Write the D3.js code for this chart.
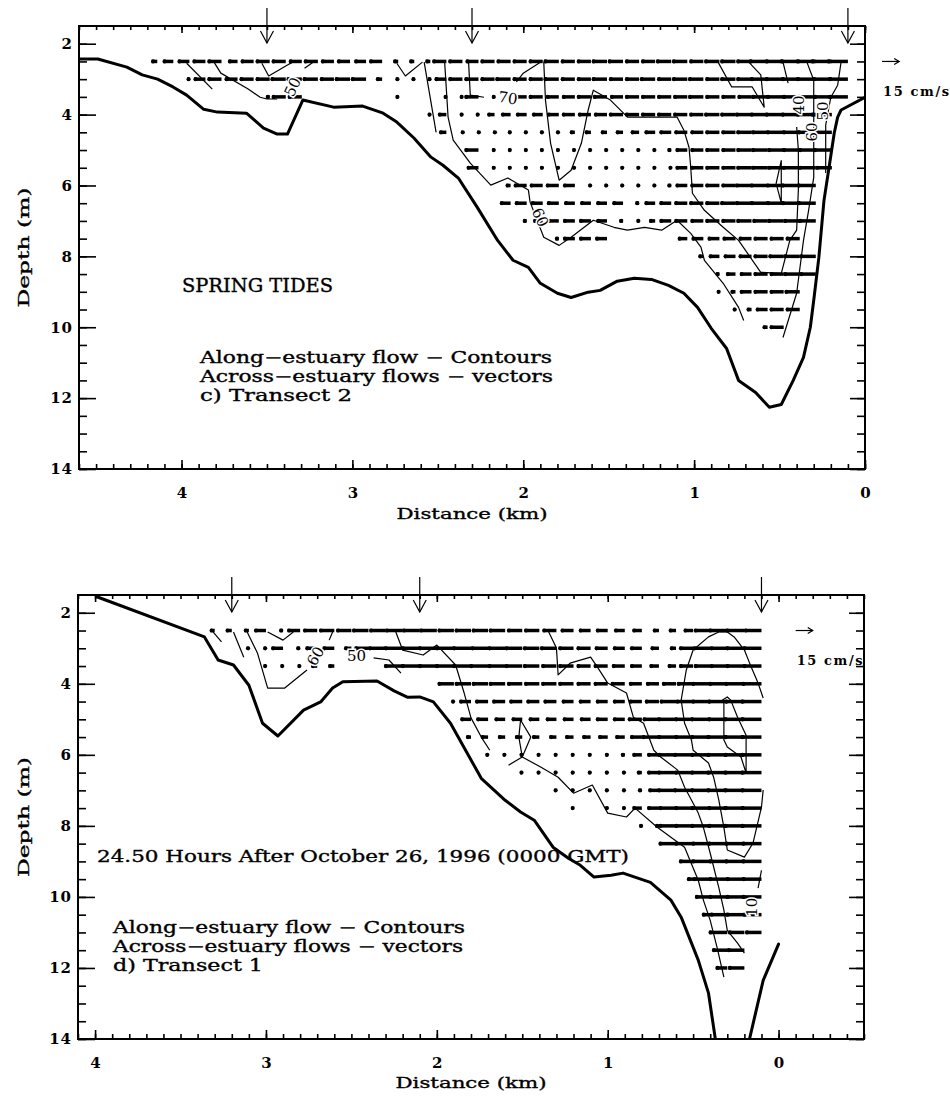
<!DOCTYPE html>
<html><head><meta charset="utf-8">
<script src="https://cdn.jsdelivr.net/npm/d3@7"></script>
<style>
body{margin:0;background:#fff}
svg text{font-family:"DejaVu Serif",serif;fill:#000}
</style>
</head><body>
<svg id="c" width="950" height="1099"></svg>
<script>
// ================= DATA =================
const depthTicks = [2, 4, 6, 8, 10, 12, 14];
const topDistTicks = [4, 3, 2, 1, 0];
const botDistTicks = [4, 3, 2, 1, 0];
const topStations = [3.5, 2.3, 0.1];
const botStations = [3.2, 2.1, 0.1];
const scaleSpeed = 15; // cm/s reference arrow

// bathymetry [km, m]
const topBathy = [[4.60,2.43],[4.49,2.43],[4.32,2.66],[4.23,2.88],[4.14,3.00],[4.05,3.22],[3.97,3.45],[3.87,3.85],[3.79,3.93],[3.62,3.96],[3.52,4.38],[3.44,4.55],[3.38,4.55],[3.29,3.59],[3.11,3.79],[2.94,3.76],[2.82,3.96],[2.74,4.21],[2.64,4.66],[2.54,5.20],[2.47,5.43],[2.38,5.79],[2.27,6.61],[2.15,7.55],[2.06,8.11],[1.97,8.31],[1.90,8.76],[1.80,9.04],[1.72,9.16],[1.62,9.01],[1.55,8.96],[1.45,8.70],[1.35,8.62],[1.25,8.65],[1.15,8.82],[1.06,9.04],[0.98,9.44],[0.90,10.03],[0.81,10.60],[0.74,11.50],[0.64,11.84],[0.56,12.26],[0.49,12.18],[0.42,11.50],[0.36,10.85],[0.32,10.00],[0.30,9.24],[0.27,8.03],[0.24,6.42],[0.21,5.48],[0.18,4.52],[0.16,4.07],[0.14,3.87],[0.00,3.51]];
const botBathyLeft = [[3.99,1.55],[3.36,2.68],[3.28,3.33],[3.19,3.47],[3.10,4.04],[3.02,5.11],[2.93,5.47],[2.78,4.74],[2.68,4.51],[2.61,4.12],[2.55,3.94],[2.35,3.92],[2.25,4.20],[2.17,4.38],[2.10,4.37],[2.02,4.51],[1.92,5.11],[1.74,6.66],[1.60,7.28],[1.51,7.61],[1.43,7.84],[1.32,8.60],[1.23,8.91],[1.16,9.11],[1.08,9.44],[0.98,9.39],[0.91,9.33],[0.75,9.59],[0.63,10.09],[0.57,10.57],[0.47,11.78],[0.41,12.71],[0.37,14.0]];
const botBathyRight = [[0.17,14.0],[0.09,12.35],[0.00,11.33]];

// contours of along-estuary flow [km, m]
const topContours = [
  [[3.97,2.55],[3.82,3.28]],
  [[3.81,2.52],[3.77,2.83],[3.61,3.28],[3.54,3.51],[3.50,3.56],[3.44,3.56]],
  [[3.53,2.55],[3.49,2.91],[3.38,2.60],[3.35,2.52]],
  [[3.28,2.69],[3.23,2.52]],
  [[2.74,2.55],[2.69,2.91],[2.59,2.52]],
  [[2.58,2.52],[2.51,4.50]],
  [[2.46,2.52],[2.44,4.07],[2.41,4.72],[2.31,5.37],[2.19,5.99],[2.09,5.79],[1.97,6.13],[1.96,6.47],[1.88,7.46],[1.79,7.69],[1.72,7.46],[1.59,6.98],[1.47,7.18],[1.39,7.26],[1.29,7.18],[1.19,7.26],[1.10,6.98],[1.02,7.35],[0.96,7.74],[0.94,8.11],[0.83,8.76],[0.74,9.44],[0.71,9.81]],
  [[2.32,2.52],[2.31,3.45],[2.23,3.51]],
  [[2.04,3.08],[2.00,2.83],[1.90,2.52]],
  [[1.88,2.52],[1.87,3.59],[1.84,4.81],[1.79,5.85],[1.72,5.57],[1.66,4.81],[1.62,3.87],[1.59,3.31],[1.49,3.59],[1.39,4.07],[1.10,4.07],[1.06,4.44],[1.03,4.92],[1.02,5.48],[1.01,6.22],[0.94,6.70],[0.83,7.18],[0.74,7.55],[0.61,8.45],[0.49,8.48],[0.44,7.55],[0.40,7.26],[0.39,6.13],[0.39,5.00],[0.40,4.35]],
  [[0.45,3.11],[0.48,2.52]],
  [[0.86,2.52],[0.78,3.22],[0.66,3.22],[0.59,3.79],[0.61,2.88],[0.68,2.52]],
  [[0.34,2.52],[0.30,3.03],[0.30,5.77],[0.33,6.70],[0.36,7.55],[0.40,9.04],[0.48,10.29]],
  [[0.14,2.52],[0.16,3.17],[0.20,3.51],[0.23,4.30],[0.23,5.65]],
  [[0.49,5.29],[0.52,5.94],[0.49,6.50],[0.49,5.29]]
];
const botContours = [
  [[3.31,2.54],[3.26,2.82]],
  [[3.19,2.54],[3.13,3.25]],
  [[3.11,2.54],[3.05,3.13],[2.99,4.12],[2.89,4.12],[2.76,3.61]],
  [[2.99,2.54],[2.90,2.77],[2.84,2.54]],
  [[2.63,2.77],[2.61,2.54]],
  [[2.37,3.27],[2.28,3.33],[2.21,3.70]],
  [[2.24,2.54],[2.20,3.05],[2.08,3.19],[2.00,2.91],[1.89,3.47],[1.84,4.26],[1.80,4.96],[1.74,5.50],[1.69,5.87]],
  [[1.35,2.49],[1.30,2.99],[1.29,3.75],[1.22,3.42],[1.10,3.25],[1.06,3.53],[1.00,3.98],[0.89,4.26],[0.85,4.94],[0.79,5.11],[0.73,5.87],[0.69,6.06],[0.59,6.43],[0.55,6.91],[0.51,7.27],[0.47,7.64],[0.44,8.04],[0.40,8.77],[0.35,9.73],[0.32,10.37],[0.30,10.94],[0.24,11.30],[0.20,11.58]],
  [[1.51,5.02],[1.45,5.50],[1.50,6.06],[1.52,5.50],[1.51,5.02]],
  [[1.58,6.29],[1.50,6.06],[1.39,6.35],[1.29,6.63],[1.20,7.08],[1.09,6.85],[1.00,7.64],[0.89,7.75],[0.84,7.50],[0.71,8.04],[0.63,8.32],[0.55,8.60],[0.47,9.53],[0.44,10.09],[0.40,10.66],[0.36,11.42],[0.32,12.26]],
  [[0.09,4.40],[0.12,3.98],[0.16,3.53],[0.20,3.05],[0.26,2.68],[0.30,2.54],[0.35,2.54],[0.41,2.68],[0.50,3.05],[0.54,3.61],[0.57,4.46],[0.55,5.11],[0.51,5.58],[0.50,5.87],[0.41,6.23],[0.38,6.63],[0.35,7.27],[0.32,8.04],[0.30,8.68],[0.20,8.88],[0.15,8.49],[0.10,7.47],[0.09,6.99]],
  [[0.33,4.46],[0.30,4.37],[0.28,4.46],[0.24,4.94],[0.19,5.45],[0.19,6.51],[0.22,6.06],[0.30,5.78],[0.32,5.58],[0.32,4.55],[0.33,4.46]],
  [[0.10,9.25],[0.12,9.75]]
];

// contour labels
const topLabelText = ['50','70','60','40','60','50'];
const topLabelPos  = [[3.35,3.22],[2.09,3.53],[1.90,6.90],[0.39,3.73],[0.31,4.49],[0.25,3.90]];
const topLabelRot  = [-65, 8, 65, -90, -90, -90];
const botLabelText = ['60','50','10'];
const botLabelPos  = [[2.71,3.22],[2.47,3.22],[0.155,10.29]];
const botLabelRot  = [-60, 0, -90];

// across-estuary velocity vectors (cm/s, negative x direction), index 0 at 0.1 km going landward
const vecOrigin = 0.1;
const topVecDx = 0.094;
const botVecDx = 0.1;
const topVecDepths = [2.5,3.0,3.5,4.0,4.5,5.0,5.5,6.0,6.5,7.0,7.5,8.0,8.5,9.0,9.5,10.0];
const topRow25 = [18,18,17,17,16,16,13,13,13,12,13,13,12,12,13,13,12,12,13,12,12,12,12,11,12,12,4,4,4,11,10,11,11,12,11,12,12,11,8,12,11,10,9,5];
const topRow30 = [17,17,17,16,16,15,13,13,12,13,13,12,13,12,12,13,12,12,13,12,12,13,12,12,12,10,2,2,2,5,13,13,12,13,13,13,12,12,11,12,10,2];
const topRow35 = [17,16,16,15,15,14,12,12,12,13,12,12,12,12,11,12,12,11,11,12,10,2,2,12,2,2,null,null,2,null,null,null,null,null,12,12,3];
const topRow40 = [null,18,17,16,16,15,14,13,13,12,12,12,12,12,12,11,11,11,10,9,9,8,6,2,2,7,2];
const topRow45 = [null,16,16,15,15,14,13,12,12,11,11,10,9,7,6,5,5,4,2,2,2,2,1,1,1,6];
const topRow50 = [null,16,15,15,14,14,13,12,12,11,10,3,2,2,2,2,2,2,2,2,2,2,2,12];
const topRow55 = [null,14,15,15,14,14,13,12,12,11,10,2,2,2,2,2,2,2,2,2,2,2,2,10];
const topRow60 = [null,null,16,16,15,15,14,12,12,11,10,3,2,2,2,2,2,10,11,11,11,4];
const topRow65 = [null,null,16,16,15,15,14,13,12,12,11,10,9,3,9,9,9,9,10,10,10,9];
const topRow70 = [null,null,15,14,14,13,13,12,12,11,11,10,5,2,3,9,10,10,10,8,3];
const topRow75 = [null,null,null,12,12,12,11,11,10,10,8,null,null,null,null,10,10,10,3];
const topRow80 = [null,null,14,14,13,12,11,10,9,4];
const topRow85 = [null,null,14,14,12,12,10,8,3];
const topRow90 = [null,null,null,13,12,12,10,4,2];
const topRow95 = [null,null,null,12,12,10,4,2];
const topRow100 = [null,null,null,null,12,4];
const topVecRows = [topRow25,topRow30,topRow35,topRow40,topRow45,topRow50,topRow55,topRow60,topRow65,topRow70,topRow75,topRow80,topRow85,topRow90,topRow95,topRow100];

const botVecDepths = [2.5,3.0,3.5,4.0,4.5,5.0,5.5,6.0,6.5,7.0,7.5,8.0,8.5,9.0,9.5,10.0,10.5,11.0,11.5,12.0];
const botRow25 = [15,16,16,14,8,6,5,8,9,10,10,11,12,13,13,14,14,14,14,15,15,15,14,14,13,13,12,11,3,10,4,5,4];
const botRow30 = [16,16,15,15,12,5,7,10,10,11,12,13,14,14,15,15,15,16,16,16,16,16,15,12,6,10,10,3,10,2,2];
const botRow35 = [16,16,15,14,12,7,8,10,11,12,12,13,13,14,15,15,16,16,16,16,16,16,null,null,null,5,5,2,2,2];
const botRow40 = [17,17,16,16,14,12,11,11,12,12,12,13,13,13,13,14,14,14,14];
const botRow45 = [18,17,17,16,15,14,12,11,10,10,10,10,11,11,11,11,11,10,2];
const botRow50 = [18,18,17,17,16,16,14,12,10,10,9,9,9,9,9,9,10,9];
const botRow55 = [18,18,18,17,16,16,15,10,8,8,7,7,6,6,6,6,6,4];
const botRow60 = [18,18,18,17,17,16,10,8,3,2,2,2,2,2,2,2,2];
const botRow65 = [18,18,18,17,16,16,10,4,2,2,2,2,2,2,2];
const botRow70 = [18,18,18,17,17,16,9,3,2,2,2,2,2];
const botRow75 = [18,18,17,17,16,15,10,8,2,2,null,2];
const botRow80 = [18,18,17,17,16,15,3,2];
const botRow85 = [17,17,17,16,16,15];
const botRow90 = [17,17,16,16,12];
const botRow95 = [17,16,16,15,5];
const botRow100 = [17,16,16,13];
const botRow105 = [16,16,15,7];
const botRow110 = [14,14,16];
const botRow115 = [null,15,13];
const botRow120 = [null,14,10];
const botVecRows = [botRow25,botRow30,botRow35,botRow40,botRow45,botRow50,botRow55,botRow60,botRow65,botRow70,botRow75,botRow80,botRow85,botRow90,botRow95,botRow100,botRow105,botRow110,botRow115,botRow120];

// text
const topNote = 'SPRING TIDES';
const topLegend = ['Along\u2212estuary flow \u2212 Contours','Across\u2212estuary flows \u2212 vectors','c) Transect 2'];
const botNote = '24.50 Hours After October 26, 1996 (0000 GMT)';
const botLegend = ['Along\u2212estuary flow \u2212 Contours','Across\u2212estuary flows \u2212 vectors','d) Transect 1'];

// ================= DRAW =================
const svg = d3.select('#c');
const kmPerCms = 0.1 / 15;

function wideText(sel, w) {
  return sel.attr('textLength', w).attr('lengthAdjust', 'spacingAndGlyphs')
    .attr('stroke', '#000').attr('stroke-width', 0.35);
}

function panel(o) {
  const x = d3.scaleLinear().domain(o.xDom).range([o.L, o.R]);
  const y = d3.scaleLinear().domain([1.5, 14]).range([o.T, o.B]);
  const g = svg.append('g');
  const line = d3.line().x(d => x(d[0])).y(d => y(d[1]));

  // axes
  const minorY = d3.range(2, 14.01, 0.5);
  const minorX = d3.range(Math.ceil(Math.min(...o.xDom) * 10), Math.floor(Math.max(...o.xDom) * 10) + 1).map(v => v / 10);
  const ax = (gen, tr) => { const a = g.append('g').attr('transform', tr).call(gen); a.select('.domain').remove(); a.selectAll('line').attr('stroke', '#000').attr('stroke-width', 1.6); return a; };
  ax(d3.axisLeft(y).tickValues(minorY).tickSize(-8).tickFormat(''), `translate(${o.L},0)`);
  const yl = ax(d3.axisLeft(y).tickValues(depthTicks).tickSize(-17).tickPadding(6).tickFormat(d3.format('d')), `translate(${o.L},0)`);
  ax(d3.axisRight(y).tickValues(minorY).tickSize(-8).tickFormat(''), `translate(${o.R},0)`);
  ax(d3.axisRight(y).tickValues(depthTicks).tickSize(-15).tickFormat(''), `translate(${o.R},0)`);
  ax(d3.axisBottom(x).tickValues(minorX).tickSize(-5).tickFormat(''), `translate(0,${o.B})`);
  const xl = ax(d3.axisBottom(x).tickValues(o.xTicks).tickSize(-9).tickPadding(18).tickFormat(d3.format('d')), `translate(0,${o.B})`);
  ax(d3.axisTop(x).tickValues(minorX).tickSize(-4).tickFormat(''), `translate(0,${o.T})`);
  ax(d3.axisTop(x).tickValues(o.xTicks).tickSize(-7).tickFormat(''), `translate(0,${o.T})`);
  [yl, xl].forEach(a => a.selectAll('text').attr('font-size', 15).attr('font-family', '"DejaVu Serif",serif').attr('font-weight', 'bold').attr('fill', '#000'));
  yl.selectAll('text').attr('letter-spacing', 1);

  g.append('rect').attr('x', o.L).attr('y', o.T).attr('width', o.R - o.L).attr('height', o.B - o.T)
    .attr('fill', 'none').attr('stroke', '#000').attr('stroke-width', 2);

  // axis titles
  wideText(g.append('text').attr('transform', `translate(29,${(o.T + o.B) / 2}) rotate(-90)`).attr('text-anchor', 'middle')
    .attr('font-size', 15.5).text('Depth (m)'), 120);
  wideText(g.append('text').attr('x', (o.L + o.R) / 2).attr('y', o.B + o.titleDy).attr('text-anchor', 'middle')
    .attr('font-size', 15.5).text('Distance (km)'), 151);

  // clip
  const cid = 'clip' + o.id;
  svg.append('clipPath').attr('id', cid).append('rect').attr('x', o.L).attr('y', o.T).attr('width', o.R - o.L).attr('height', o.B - o.T);
  const inner = g.append('g').attr('clip-path', `url(#${cid})`);

  // contours
  inner.selectAll('path.ct').data(o.contours).join('path').attr('class', 'ct')
    .attr('d', line).attr('fill', 'none').attr('stroke', '#000').attr('stroke-width', 1.2).attr('stroke-linejoin', 'round');

  // bathymetry
  o.bathy.forEach(b => inner.append('path').attr('d', line(b)).attr('fill', 'none').attr('stroke', '#000')
    .attr('stroke-width', 3).attr('stroke-linejoin', 'round').attr('stroke-linecap', 'round'));

  // vectors
  o.vecRows.forEach((row, i) => {
    const d = o.vecDepths[i];
    row.forEach((s, k) => {
      if (s === null) return;
      const tail = vecOrigin + k * o.dx;
      const head = tail + s * kmPerCms;
      inner.append('line').attr('x1', x(tail)).attr('x2', x(head)).attr('y1', y(d)).attr('y2', y(d))
        .attr('stroke', '#000').attr('stroke-width', 3.5).attr('stroke-linecap', 'butt');
      inner.append('circle').attr('cx', x(head) + 1.5).attr('cy', y(d)).attr('r', 2.1).attr('fill', '#000');
    });
  });

  // contour labels
  o.labText.forEach((t, i) => {
    inner.append('text').attr('transform', `translate(${x(o.labPos[i][0])},${y(o.labPos[i][1])}) rotate(${o.labRot[i]})`)
      .attr('text-anchor', 'middle').attr('dy', '0.35em').attr('font-size', 15)
      .attr('stroke', '#fff').attr('stroke-width', 3).attr('paint-order', 'stroke').text(t);
  });

  // station arrows
  o.stations.forEach(s => {
    const xs = x(s);
    g.append('line').attr('x1', xs).attr('x2', xs).attr('y1', o.T - 18).attr('y2', o.T + 17).attr('stroke', '#000').attr('stroke-width', 1.2);
    g.append('path').attr('d', `M${xs - 6.5},${o.T + 5}L${xs},${o.T + 17}L${xs + 6.5},${o.T + 5}`).attr('fill', 'none').attr('stroke', '#000').attr('stroke-width', 1.2);
  });

  // scale arrow
  const sx0 = x(o.scaleKm), sx1 = x(o.scaleKm - scaleSpeed * kmPerCms);
  const sy = y(2.5);
  g.append('line').attr('x1', sx0).attr('x2', sx1).attr('y1', sy).attr('y2', sy).attr('stroke', '#000').attr('stroke-width', 1.2);
  g.append('path').attr('d', `M${sx1 - 5},${sy - 3}L${sx1},${sy}L${sx1 - 5},${sy + 3}`).attr('fill', 'none').attr('stroke', '#000').attr('stroke-width', 1.2);
  g.append('text').attr('x', sx0 + 1).attr('y', sy + o.scaleTextDy).attr('font-size', 13).attr('font-weight', 'bold')
    .attr('textLength', 66).text('15 cm/s');

  // notes
  wideText(g.append('text').attr('x', o.noteX).attr('y', o.noteY).attr('font-size', o.noteFs).text(o.note), o.noteW);
  o.legend.forEach((t, i) => {
    wideText(g.append('text').attr('x', o.legX).attr('y', o.legY + i * 19.2).attr('font-size', 16).text(t), o.legW[i]);
  });
}

panel({
  id: 'a', L: 79, R: 865, T: 26, B: 469, xDom: [4.6, 0], xTicks: topDistTicks, titleDy: 50,
  bathy: [topBathy], contours: topContours,
  labText: topLabelText, labPos: topLabelPos, labRot: topLabelRot,
  vecRows: topVecRows, vecDepths: topVecDepths, dx: topVecDx,
  stations: topStations, scaleKm: -0.1, scaleTextDy: 35,
  note: topNote, noteX: 182, noteY: 292, noteW: 151, noteFs: 18,
  legend: topLegend, legX: 200, legY: 362.7, legW: [352, 353, 152]
});
panel({
  id: 'b', L: 78, R: 864, T: 595, B: 1039, xDom: [4.1, -0.5], xTicks: botDistTicks, titleDy: 49,
  bathy: [botBathyLeft, botBathyRight], contours: botContours,
  labText: botLabelText, labPos: botLabelPos, labRot: botLabelRot,
  vecRows: botVecRows, vecDepths: botVecDepths, dx: botVecDx,
  stations: botStations, scaleKm: -0.1, scaleTextDy: 34,
  note: botNote, noteX: 97, noteY: 861.7, noteW: 532, noteFs: 17,
  legend: botLegend, legX: 113, legY: 933, legW: [352, 350, 150]
});
</script>
</body></html>
